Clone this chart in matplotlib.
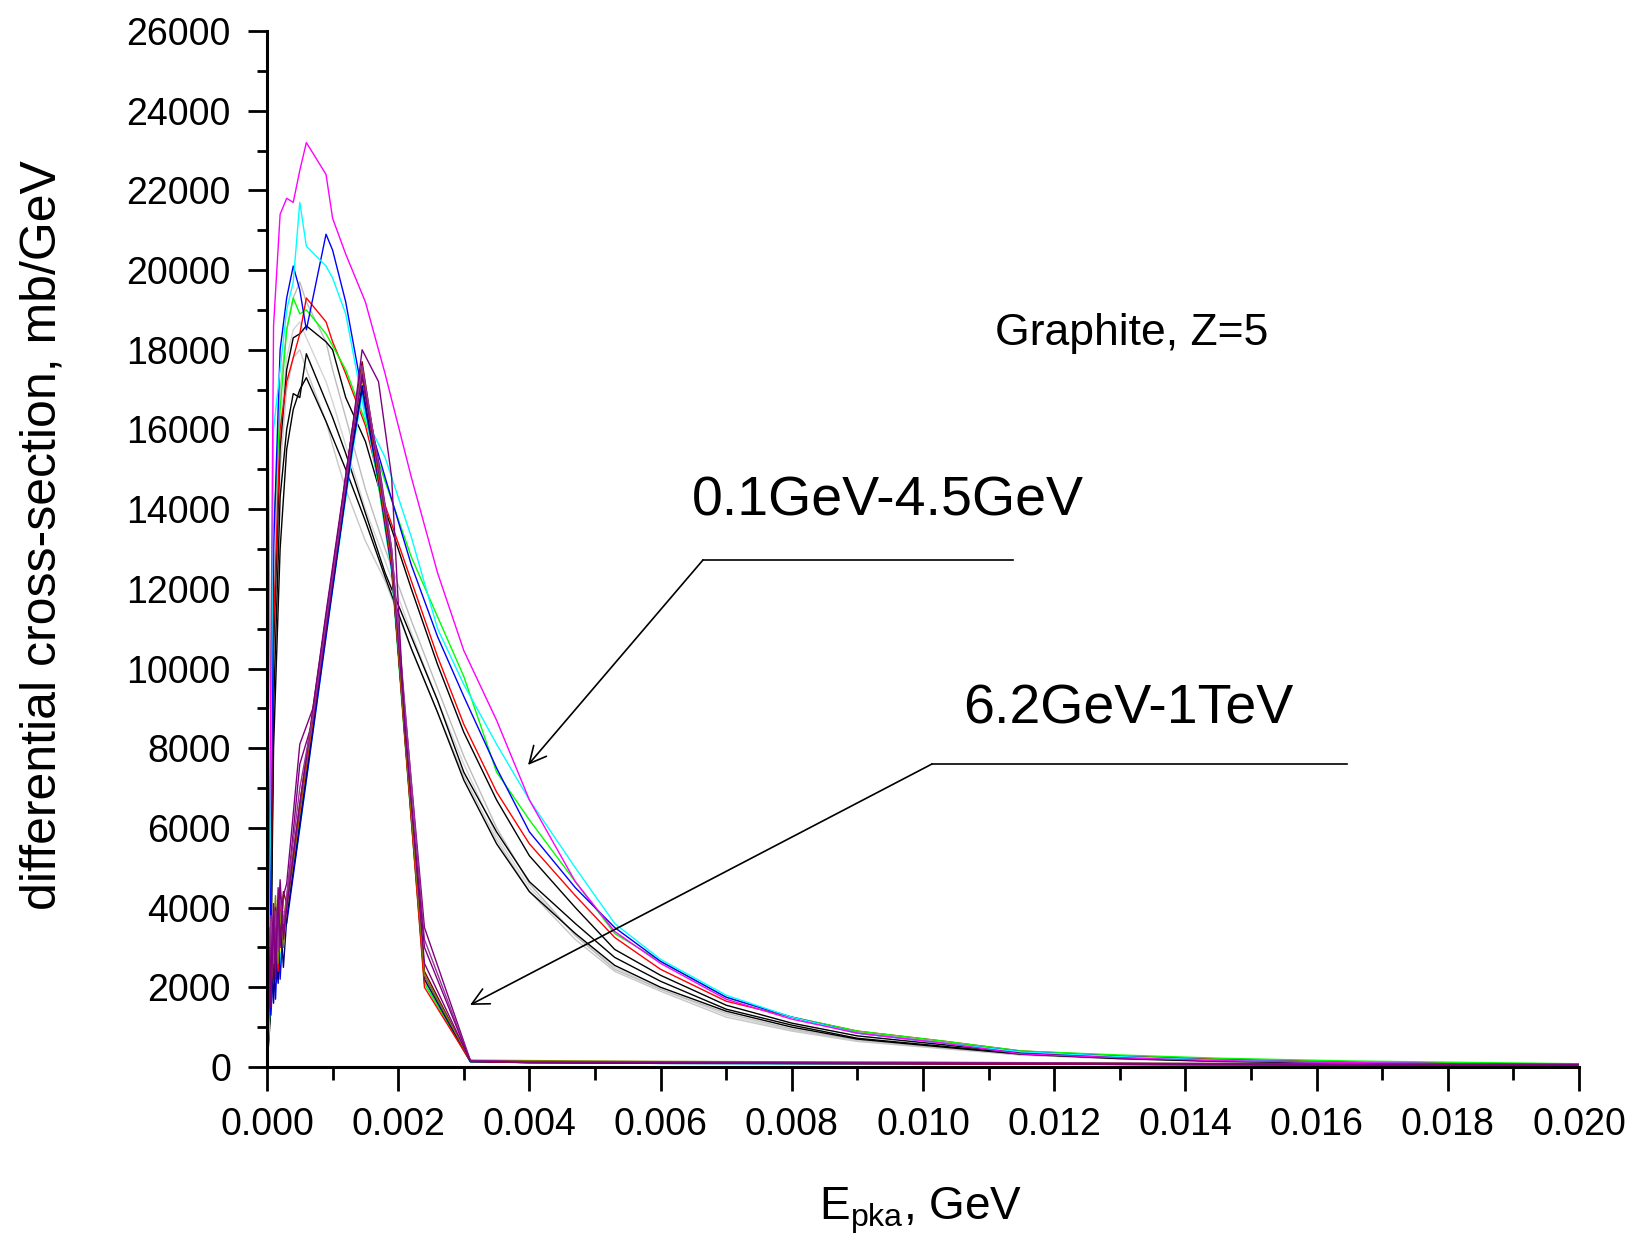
import matplotlib
matplotlib.use('Agg')
import matplotlib.pyplot as plt
from matplotlib.ticker import MultipleLocator, FormatStrFormatter

plt.rcParams['font.family'] = ['Liberation Sans', 'DejaVu Sans']
plt.rcParams['mathtext.fontset'] = 'custom'
plt.rcParams['mathtext.rm'] = 'Liberation Sans'
plt.rcParams['mathtext.it'] = 'Liberation Sans:italic'

# ---- data: 0.1GeV-4.5GeV family (broad curves with long tails) ----
x_low = [0, 0.00005, 0.0001, 0.0002, 0.0003, 0.0004, 0.0005, 0.0006, 0.0009, 0.0010,
         0.0012, 0.0015, 0.0018, 0.0022, 0.0026, 0.0030, 0.0035, 0.0040, 0.0047, 0.0053,
         0.0060, 0.0070, 0.0080, 0.0090, 0.0103, 0.0115, 0.0130, 0.0145, 0.0165, 0.0185, 0.0200]

gray_1 = [0, 4000, 12000, 17000, 18500, 19300, 19700, 19200, 18200, 17500, 16300, 14500, 13000, 11200, 9500, 7800,
          6000, 4600, 3300, 2450, 1950, 1350, 950, 680, 480, 310, 210, 140, 95, 65, 45]
gray_2 = [0, 3000, 10000, 15000, 17000, 17800, 18000, 17500, 16200, 15600, 14500, 13200, 12200, 10500, 8900, 7300,
          5700, 4400, 3200, 2400, 1900, 1250, 900, 640, 460, 300, 200, 135, 90, 60, 40]
gray_3 = [0, 2500, 11500, 16000, 17800, 18500, 18700, 18300, 17200, 16700, 15600, 14000, 12700, 10900, 9200, 7600,
          5800, 4500, 3300, 2500, 1950, 1300, 920, 660, 470, 300, 205, 140, 95, 62, 42]
black_1 = [0, 1500, 9000, 14300, 16000, 16900, 16800, 17900, 16700, 16300, 15400, 13900, 12400, 10800, 9200, 7400,
           5900, 4650, 3600, 2750, 2150, 1450, 1050, 720, 520, 330, 220, 150, 100, 70, 50]
black_2 = [0, 2000, 10500, 15500, 17500, 18300, 18400, 18600, 18200, 18000, 16800, 15700, 14000, 12000, 10100, 8400,
           6700, 5300, 4000, 2950, 2300, 1550, 1100, 780, 560, 350, 240, 160, 110, 75, 50]
black_3 = [0, 1200, 8000, 13000, 15500, 16500, 17000, 17300, 16200, 15800, 15000, 13700, 12300, 10500, 8900, 7200,
           5600, 4400, 3350, 2550, 2000, 1400, 1000, 700, 500, 320, 210, 140, 95, 65, 45]
red = [0, 2500, 11000, 16000, 17200, 17800, 18400, 19300, 18700, 18200, 17400, 16100, 14100, 12200, 10300, 8600,
       6900, 5600, 4300, 3250, 2450, 1650, 1250, 900, 650, 400, 280, 200, 130, 90, 60]
green = [20200, 9000, 13500, 16500, 18500, 19300, 18900, 19000, 18400, 18100, 17500, 16200, 14700, 12800, 11300, 9800,
         7400, 6200, 4650, 3350, 2650, 1750, 1250, 900, 650, 400, 300, 220, 150, 110, 80]
blue = [0, 3000, 13000, 18000, 19300, 20100, 19500, 18500, 20900, 20500, 19200, 16500, 14800, 12600, 10800, 9300,
        7500, 5900, 4500, 3500, 2650, 1750, 1250, 850, 600, 380, 260, 170, 110, 70, 50]
cyan = [0, 6000, 16000, 17500, 19000, 19700, 21700, 20600, 20100, 19800, 18900, 16300, 15300, 13300, 11000, 9600,
        8100, 6700, 5000, 3600, 2700, 1800, 1250, 850, 600, 380, 260, 170, 110, 70, 50]
magenta = [0, 8000, 18600, 21400, 21800, 21700, 22500, 23200, 22400, 21300, 20400, 19200, 17400, 14800, 12400, 10450,
           8700, 6700, 4650, 3400, 2600, 1700, 1200, 850, 600, 330, 230, 160, 110, 70, 50]

low_series = [
    (gray_3, '#d4d4d4'), (gray_2, '#c8c8c8'), (gray_1, '#bcbcbc'),
    (black_3, '#000000'), (black_1, '#000000'), (black_2, '#000000'),
    (red, '#ff0000'), (green, '#00ff00'), (blue, '#0000ff'),
    (cyan, '#00ffff'), (magenta, '#ff00ff'),
]

# ---- data: 6.2GeV-1TeV family (triangular curves) ----
x_high = [0, 0.00003, 0.00006, 0.0001, 0.00013, 0.00017, 0.0002, 0.00025, 0.0003, 0.0005, 0.0007, 0.0009,
          0.0011, 0.0013, 0.00145, 0.0017, 0.0019, 0.0021, 0.0024, 0.0031, 0.004, 0.006, 0.010, 0.014, 0.020]

purple_1 = [0, 3000, 1500, 3800, 2200, 4500, 3000, 4300, 4600, 8100, 9000, 11400, 13700, 16000, 18000, 17200,
            14800, 8500, 3000, 150, 120, 110, 100, 80, 60]
purple_2 = [0, 2000, 3200, 2500, 4000, 3000, 4400, 3500, 4200, 7600, 8700, 11000, 13400, 15800, 17400, 15200,
            13000, 9000, 3500, 160, 130, 120, 100, 80, 60]
purple_3 = [0, 1500, 2500, 4100, 2800, 3600, 4700, 3200, 4000, 6600, 8900, 11300, 13600, 16000, 17300, 15000,
            12800, 8700, 2600, 150, 120, 110, 90, 70, 50]
purple_4 = [0, 2400, 3800, 2600, 3900, 2900, 4200, 3600, 4300, 7000, 8800, 11200, 13500, 15900, 17600, 15100,
            13000, 9100, 3200, 160, 130, 120, 110, 90, 70]
olive = [0, 2800, 1800, 3400, 4300, 2600, 3900, 3000, 4100, 6500, 8800, 11200, 13500, 15900, 17500, 14900,
         12700, 8400, 2300, 170, 160, 140, 120, 90, 60]
yellow = [0, 1000, 2600, 3000, 2300, 3800, 2900, 4100, 3700, 6300, 8600, 11000, 13300, 15700, 17200, 14700,
          12500, 8200, 2200, 150, 120, 100, 80, 60, 40]
red_h = [0, 3500, 2100, 2900, 3700, 2400, 4000, 3300, 4000, 6400, 8700, 11100, 13400, 15800, 17400, 14800,
         12600, 8300, 2000, 140, 110, 100, 80, 60, 40]
green_h = [0, 1200, 2300, 1900, 3200, 2700, 3500, 3900, 3900, 6200, 8600, 11000, 13300, 15600, 17100, 14600,
           12500, 8300, 2100, 130, 110, 100, 80, 60, 40]
blue_h = [0, 2200, 1300, 2600, 1700, 3300, 2200, 3600, 3600, 6000, 8400, 10800, 13200, 15500, 17000, 14700,
          12500, 8400, 2300, 140, 110, 100, 80, 60, 40]
navy_h = [0, 1800, 3000, 1600, 2900, 2100, 3800, 2500, 3700, 6100, 8500, 10900, 13200, 15600, 17100, 14800,
          12600, 8300, 2200, 130, 110, 90, 80, 60, 40]
cyan_h = [0, 900, 2000, 2800, 2100, 3300, 2600, 3700, 3800, 6000, 8400, 10800, 13100, 15400, 16900, 14600,
          12400, 8200, 2100, 130, 110, 90, 70, 60, 40]
darkred_h = [0, 2600, 3400, 2200, 3600, 4200, 3100, 4400, 4100, 6600, 9000, 11300, 13600, 16000, 17700, 15000,
             12800, 8500, 2400, 150, 120, 100, 90, 70, 50]
teal_h = [0, 1600, 2400, 3300, 2500, 3500, 3300, 3800, 3900, 6300, 8700, 11100, 13400, 15700, 17300, 14800,
          12600, 8400, 2200, 140, 110, 90, 80, 60, 40]

high_series = [
    (cyan_h, '#00ffff'), (teal_h, '#008080'), (yellow, '#ffff00'), (green_h, '#00ff00'),
    (blue_h, '#0000ff'), (navy_h, '#000080'), (red_h, '#ff0000'), (darkred_h, '#800000'),
    (olive, '#808000'), (purple_3, '#800080'), (purple_2, '#800080'),
    (purple_4, '#993399'), (purple_1, '#800080'),
]

fig = plt.figure(figsize=(16.37, 12.45), dpi=100)
ax = fig.add_axes([0.1631, 0.1430, 0.8015, 0.8321])

for ys, c in low_series:
    ax.plot(x_low, ys, color=c, lw=1.0)
for ys, c in high_series:
    ax.plot(x_high, ys, color=c, lw=1.0)

ax.set_xlim(0, 0.020)
ax.set_ylim(0, 26000)
ax.xaxis.set_major_locator(MultipleLocator(0.002))
ax.xaxis.set_minor_locator(MultipleLocator(0.001))
ax.xaxis.set_major_formatter(FormatStrFormatter('%.3f'))
ax.yaxis.set_major_locator(MultipleLocator(2000))
ax.yaxis.set_minor_locator(MultipleLocator(1000))

for s in ['top', 'right']:
    ax.spines[s].set_visible(False)
for s in ['left', 'bottom']:
    ax.spines[s].set_linewidth(2.2)
    ax.spines[s].set_zorder(5)

ax.tick_params(axis='x', which='major', direction='out', length=17, width=2, labelsize=27, pad=12)
ax.tick_params(axis='x', which='minor', direction='out', length=9, width=2)
ax.tick_params(axis='y', which='major', direction='out', length=14, width=2, labelsize=27, pad=12)
ax.tick_params(axis='y', which='minor', direction='out', length=7, width=2)

# axis titles
fig.text(43 / 1637, 1 - 535 / 1245, 'differential cross-section, mb/GeV', rotation=90,
         ha='center', va='center', fontsize=36)
fig.text(921 / 1637, 1 - 1220 / 1245, r'$\mathregular{E_{pka}}$, GeV', ha='center', va='baseline',
         fontsize=33)

# annotations
ax.text(0.01110, 18120, 'Graphite, Z=5', fontsize=32, va='baseline')
ax.text(0.00648, 13850, '0.1GeV-4.5GeV', fontsize=40, va='baseline')
ax.text(0.01061, 8630, '6.2GeV-1TeV', fontsize=40, va='baseline')

arrow_kw = dict(arrowstyle='->', color='black', lw=1.2, mutation_scale=30, shrinkA=0, shrinkB=0)
ax.plot([0.011372, 0.006646], [12724, 12724], color='black', lw=1.2)
ax.annotate('', xy=(0.003979, 7579), xytext=(0.006646, 12724), arrowprops=arrow_kw)
ax.plot([0.016463, 0.010137], [7604, 7604], color='black', lw=1.2)
ax.annotate('', xy=(0.003095, 1556), xytext=(0.010137, 7604), arrowprops=arrow_kw)

fig.savefig('out.png', dpi=100, facecolor='white')
